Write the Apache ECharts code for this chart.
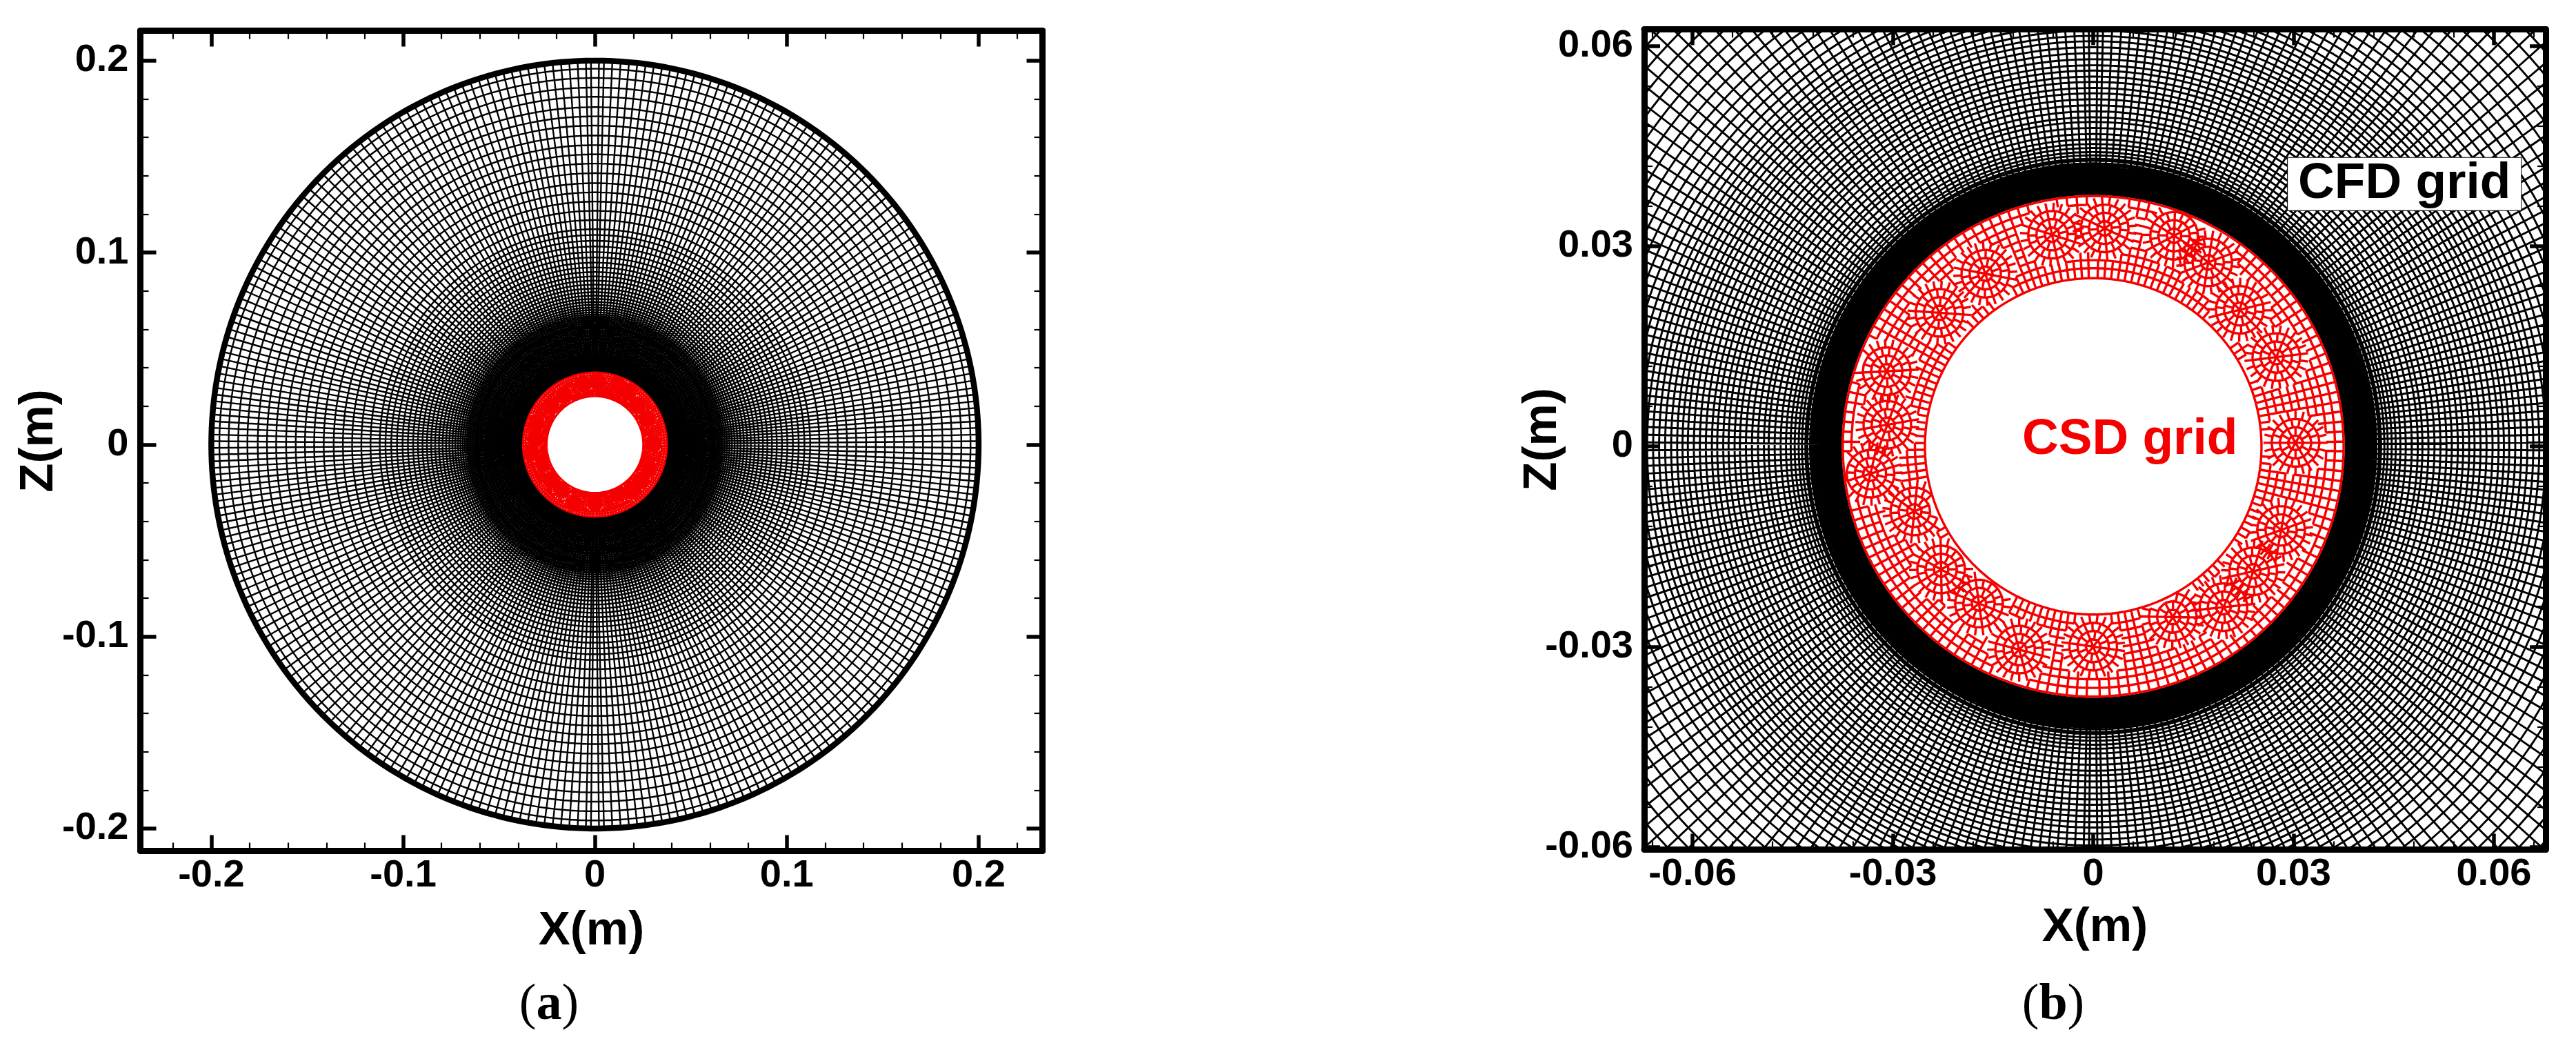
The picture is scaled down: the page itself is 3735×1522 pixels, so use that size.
<!DOCTYPE html>
<html lang="en">
<head>
    <meta charset="UTF-8">
    <title>CFD and CSD grids</title>
    <script src="https://cdn.jsdelivr.net/npm/echarts@6/dist/echarts.min.js"></script>
    <style>
        html,
        body {
            margin: 0;
            height: 100%;
            background: #fff;
        }
        #main {
            width: 100%;
            height: 100%;
        }
    </style>
</head>
<body>
    <div id="main"></div>
    <script type="text/javascript">
        const myChart = echarts.init(document.getElementById('main'));

        const FONT = '"Liberation Sans", Arial, sans-serif';
        const RED = '#f50000';

        // tick positions (m)
        const aMajorTicks = [-0.2, -0.1, 0, 0.1, 0.2];
        const aMinorTicks = [-0.22, -0.18, -0.16, -0.14, -0.12, -0.08, -0.06, -0.04, -0.02, 0.02, 0.04, 0.06, 0.08, 0.12, 0.14, 0.16, 0.18, 0.22];
        const bMajorTicks = [-0.06, -0.03, 0, 0.03, 0.06];
        const bMinorTicks = [-0.066, -0.054, -0.048, -0.042, -0.036, -0.024, -0.018, -0.012, -0.006, 0.006, 0.012, 0.018, 0.024, 0.036, 0.042, 0.048, 0.054, 0.066];

        // CFD grid: radii of the circles read along the axes (m)
        const cfdRadii = [
            0.0378, 0.0380, 0.0382, 0.0384, 0.0386, 0.0388, 0.0390, 0.0392, 0.0394, 0.0396, 0.0398,
            0.0400, 0.0402, 0.0404, 0.0406, 0.0408, 0.0410, 0.0412, 0.0414, 0.0416, 0.0418,
            0.0421, 0.0424, 0.0428, 0.0431, 0.0436, 0.0441, 0.0447, 0.0453, 0.0460, 0.0468, 0.0477,
            0.0486, 0.0493, 0.0502, 0.0511, 0.0520, 0.0529, 0.0537, 0.0546, 0.0554, 0.0563, 0.0571,
            0.0580, 0.0589, 0.0598, 0.0607, 0.0615, 0.0623, 0.0632, 0.0641, 0.0650, 0.0659, 0.0668,
            0.0678, 0.0689, 0.0701, 0.0714, 0.0728, 0.0743, 0.0759, 0.0776, 0.0794, 0.0813, 0.0833,
            0.0854, 0.0876, 0.0899, 0.0923, 0.0948, 0.0975, 0.1003, 0.1032, 0.1062, 0.1092, 0.1122,
            0.1170, 0.1218, 0.1266, 0.1314, 0.1362, 0.1414, 0.1464, 0.1512, 0.1560, 0.1610, 0.1662,
            0.1710, 0.1758, 0.1812, 0.1860, 0.1910, 0.1958
        ];
        const cfdOuterRadius = [0.2];

        // CFD grid: spoke angles in the first quadrant (deg), the other three mirror it
        const cfdSpokeDeg = [
            0.5, 1.5, 2.5, 3.5, 4.5, 5.5, 6.5, 7.5, 8.5, 9.6, 10.7, 11.8, 12.9, 14.0, 15.1, 16.3, 17.5,
            18.7, 19.9, 21.1, 22.4, 23.7, 25.0, 26.3, 27.6, 28.9, 30.3, 31.7, 33.1, 34.5, 35.9, 37.3,
            38.8, 40.3, 41.8, 43.3, 44.8, 46.3, 47.8, 49.3, 50.7, 52.1, 53.5, 54.9, 56.3, 57.7, 59.1,
            60.5, 61.9, 63.2, 64.5, 65.8, 67.1, 68.4, 69.7, 71.0, 72.3, 73.6, 74.9, 76.15, 77.4, 78.65,
            79.9, 81.15, 82.4, 83.65, 84.9, 86.15, 87.4, 88.65, 89.4
        ];

        // CSD grid: rings and spokes of the paved annulus
        const csdRadii = [0.0252, 0.0267, 0.0279, 0.0291, 0.0303, 0.0314, 0.0326, 0.0338, 0.0349, 0.0362, 0.0375];
        const csdSpokeDeg = [
            1.1, 3.4, 5.7, 8.0, 10.3, 12.6, 14.9, 17.2, 19.5, 21.8, 24.1, 26.4, 28.7, 31.0, 33.3, 35.6,
            37.9, 40.2, 42.5, 44.8, 47.1, 49.4, 51.7, 54.0, 56.3, 58.6, 60.9, 63.2, 65.5, 67.8, 70.1,
            72.4, 74.7, 77.0, 79.3, 81.6, 83.9, 86.2, 88.5
        ];
        // centres of the star patterns in the paving
        const rosetteDeg = [1, 26, 43, 58, 69, 87, 101, 122, 139, 160, 174, 187, 200, 219, 234, 250, 270, 295, 309, 322, 336];
        const rosetteRad = [0.0303, 0.0305, 0.0300, 0.0325, 0.0338, 0.0327, 0.0323, 0.0305, 0.0305, 0.0329, 0.0310, 0.0336, 0.0285, 0.0293, 0.0291, 0.0324, 0.0300, 0.0282, 0.0310, 0.0304, 0.0308];
        // star rings with the number of rays that cross each one
        const rosetteRings = [0.0012, 0.0024, 0.0036, 0.0048];
        const rosetteRays = [6, 12, 18, 24];

        const rad = d => d * Math.PI / 180;
        const polar = (r, d) => [r * Math.cos(rad(d)), r * Math.sin(rad(d))];
        const BREAK = [NaN, NaN];

        const allQuadrants = quad => {
            const out = [];
            quad.forEach(a => out.push(a));
            quad.slice().reverse().forEach(a => out.push(180 - a));
            quad.forEach(a => out.push(180 + a));
            quad.slice().reverse().forEach(a => out.push(360 - a));
            return out;
        };

        const buildCircles = (radii, angles) => {
            const pts = [];
            radii.forEach(r => {
                angles.forEach(a => pts.push(polar(r, a)));
                pts.push(polar(r, angles[0]));
                pts.push(BREAK);
            });
            return pts;
        };

        const buildSpokes = (r0, r1, angles) => {
            const pts = [];
            angles.forEach(a => {
                pts.push(polar(r0, a));
                pts.push(polar(r1, a));
                pts.push(BREAK);
            });
            return pts;
        };

        const rosetteCentres = rosetteDeg.map((d, i) => polar(rosetteRad[i], d));
        const PATCH = rosetteRings[rosetteRings.length - 1];
        const inPatch = p => rosetteCentres.some(c => Math.hypot(p[0] - c[0], p[1] - c[1]) < PATCH);
        const inRing = p => {
            const r = Math.hypot(p[0], p[1]);
            return r >= csdRadii[0] && r <= csdRadii[csdRadii.length - 1];
        };

        const buildCsd = () => {
            const pts = [];
            const seg = (a, b) => {
                pts.push(a);
                pts.push(b);
                pts.push(BREAK);
            };
            const angles = allQuadrants(csdSpokeDeg);
            // paved rings, left open where a star sits
            csdRadii.forEach((r, k) => {
                angles.forEach((a, i) => {
                    const p = polar(r, a);
                    const q = polar(r, angles[(i + 1) % angles.length]);
                    const m = [(p[0] + q[0]) / 2, (p[1] + q[1]) / 2];
                    if (k === 0 || k === csdRadii.length - 1 || !inPatch(m)) seg(p, q);
                });
            });
            for (let k = 0; k < csdRadii.length - 1; k++) {
                angles.forEach(a => {
                    const p = polar(csdRadii[k], a);
                    const q = polar(csdRadii[k + 1], a);
                    const m = [(p[0] + q[0]) / 2, (p[1] + q[1]) / 2];
                    if (!inPatch(m)) seg(p, q);
                });
            }
            // stars: rings stop short of the patch edge, rays run out to meet the paving
            rosetteCentres.forEach((c, n) => {
                rosetteRings.forEach((r, k) => {
                    const count = rosetteRays[k];
                    const step = 360 / count;
                    const turn = n * 7;
                    for (let i = 0; i < count; i++) {
                        const a = turn + i * step;
                        const d1 = polar(r, a);
                        const d0 = polar(k === 0 ? 0 : rosetteRings[k - 1], a);
                        const p = [c[0] + d0[0], c[1] + d0[1]];
                        const q = [c[0] + d1[0], c[1] + d1[1]];
                        if (inRing(p) && inRing(q)) seg(p, q);
                        if (k < rosetteRings.length - 1) {
                            const d2 = polar(r, a + step);
                            const s = [c[0] + d2[0], c[1] + d2[1]];
                            if (inRing(q) && inRing(s)) seg(q, s);
                        }
                    }
                });
            });
            return pts;
        };

        const cfdAngles = allQuadrants(cfdSpokeDeg);
        const cfdGrid = buildCircles(cfdRadii, cfdAngles).concat(buildSpokes(cfdRadii[0], cfdOuterRadius[0], cfdAngles));
        const cfdOuter = buildCircles(cfdOuterRadius, cfdAngles);
        const csdGrid = buildCsd();

        const axisBase = (range, position, gridIndex) => ({
            type: 'value',
            gridIndex,
            position,
            min: range[0],
            max: range[1],
            splitLine: { show: false },
            axisLine: { show: true, onZero: false, lineStyle: { color: '#000', width: 9 } }
        });
        const majorAxis = (range, position, gridIndex, ticks, labelled, name, nameGap, margin) => {
            const axis = axisBase(range, position, gridIndex);
            axis.axisTick = { show: true, inside: true, length: 23, lineStyle: { color: '#000', width: 5.5 }, customValues: ticks };
            axis.axisLabel = {
                show: labelled,
                customValues: ticks,
                margin,
                color: '#000',
                fontFamily: FONT,
                fontWeight: 'bold',
                fontSize: 56,
                formatter: v => String(v)
            };
            if (name) {
                axis.name = name;
                axis.nameLocation = 'middle';
                axis.nameGap = nameGap;
                axis.nameMoveOverlap = false;
                axis.nameTextStyle = { color: '#000', fontFamily: FONT, fontWeight: 'bold', fontSize: 69 };
            }
            return axis;
        };
        const minorAxis = (range, position, gridIndex, ticks) => {
            const axis = axisBase(range, position, gridIndex);
            axis.axisLine.show = false;
            axis.axisLabel = { show: false };
            axis.axisTick = { show: true, inside: true, length: 12, lineStyle: { color: '#000', width: 2.2 }, customValues: ticks };
            return axis;
        };

        const aX = [-0.2370, 0.2333];
        const aY = [-0.2117, 0.2156];
        const bX = [-0.06723, 0.06775];
        const bY = [-0.06041, 0.06248];

        const rect = (left, right, top, bottom) => ({
            left, top, width: right - left, height: bottom - top, outerBoundsMode: 'none', containLabel: false
        });

        const panelLabel = (letter, x, y) => ({
            type: 'text',
            x,
            y,
            style: {
                text: '{p|(}{l|' + letter + '}{p|)}',
                align: 'center',
                verticalAlign: 'middle',
                rich: {
                    p: { fontFamily: '"Liberation Serif", serif', fontSize: 74, fill: '#000' },
                    l: { fontFamily: '"Liberation Serif", serif', fontSize: 74, fontWeight: 'bold', fill: '#000' }
                }
            }
        });

        const meshSeries = (data, color, width, index) => ({
            type: 'line',
            xAxisIndex: index,
            yAxisIndex: index,
            data,
            silent: true,
            animation: false,
            showSymbol: false,
            symbol: 'none',
            connectNulls: false,
            lineStyle: { color, width, join: 'miter' }
        });

        const textSeries = (point, label) => ({
            type: 'scatter',
            xAxisIndex: 4,
            yAxisIndex: 4,
            symbolSize: 1,
            z: 20,
            silent: true,
            itemStyle: { opacity: 1, color: 'transparent' },
            data: [point],
            label
        });

        const option = {
            backgroundColor: '#fff',
            animation: false,
            grid: [
                rect(203.5, 1511.5, 44.5, 1233.5),
                rect(203.5, 1511.5, 44.5, 1233.5),
                rect(2384, 3691, 42.5, 1231.5),
                rect(2384, 3691, 42.5, 1231.5)
            ],
            xAxis: [
                majorAxis(aX, 'bottom', 0, aMajorTicks, true, 'X(m)', 82, 8),
                majorAxis(aX, 'top', 0, aMajorTicks, false),
                minorAxis(aX, 'bottom', 1, aMinorTicks),
                minorAxis(aX, 'top', 1, aMinorTicks),
                majorAxis(bX, 'bottom', 2, bMajorTicks, true, 'X(m)', 79, 8),
                majorAxis(bX, 'top', 2, bMajorTicks, false),
                minorAxis(bX, 'bottom', 3, bMinorTicks),
                minorAxis(bX, 'top', 3, bMinorTicks)
            ],
            yAxis: [
                majorAxis(aY, 'left', 0, aMajorTicks, true, 'Z(m)', 112, 17),
                majorAxis(aY, 'right', 0, aMajorTicks, false),
                minorAxis(aY, 'left', 1, aMinorTicks),
                minorAxis(aY, 'right', 1, aMinorTicks),
                majorAxis(bY, 'left', 2, bMajorTicks, true, 'Z(m)', 113, 16),
                majorAxis(bY, 'right', 2, bMajorTicks, false),
                minorAxis(bY, 'left', 3, bMinorTicks),
                minorAxis(bY, 'right', 3, bMinorTicks)
            ],
            series: [
                meshSeries(cfdGrid, '#000', 2.4, 0),
                meshSeries(cfdOuter, '#000', 8.5, 0),
                meshSeries(csdGrid, RED, 3, 0),
                meshSeries(cfdGrid, '#000', 2.9, 4),
                meshSeries(csdGrid, RED, 3.4, 4),
                textSeries([0.0466, 0.0393], {
                    show: true,
                    position: 'inside',
                    formatter: 'CFD grid',
                    color: '#000',
                    fontFamily: FONT,
                    fontWeight: 'bold',
                    fontSize: 73,
                    lineHeight: 74,
                    backgroundColor: '#fff',
                    borderColor: '#000',
                    borderWidth: 1,
                    padding: [1, 15]
                }),
                textSeries([0.0055, 0.0009], {
                    show: true,
                    position: 'inside',
                    formatter: 'CSD grid',
                    color: RED,
                    fontFamily: FONT,
                    fontWeight: 'bold',
                    fontSize: 73
                })
            ],
            graphic: [
                panelLabel('a', 796, 1458),
                panelLabel('b', 2977, 1458)
            ]
        };
        myChart.setOption(option);
    </script>
</body>
</html>
